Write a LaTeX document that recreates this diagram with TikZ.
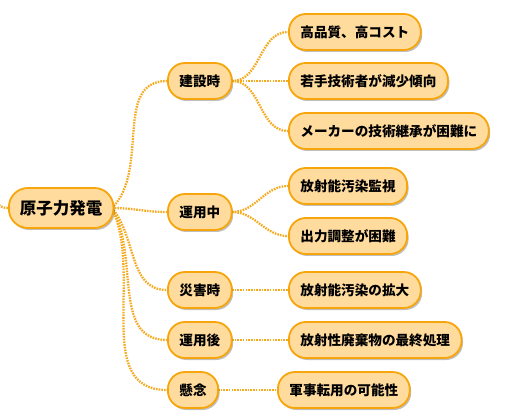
\documentclass[tikz,border=0pt]{standalone}
\usepackage{fontspec}
\setmainfont{Noto Sans CJK JP}
\usetikzlibrary{shadows}
\definecolor{boxfill}{RGB}{255,220,158}
\definecolor{boxline}{RGB}{247,165,10}
\definecolor{linkcol}{RGB}{246,170,30}
\tikzset{
  mbox/.style={draw=boxline, line width=1.8pt, fill=boxfill, rounded corners=17pt,
    minimum height=36pt, inner xsep=11.5pt, inner ysep=0pt, anchor=west,
    font=\fontsize{13.6}{15}\selectfont\bfseries,
    drop shadow={shadow xshift=1.5pt, shadow yshift=-2pt, opacity=0.25, fill=black}},
  rootbox/.style={mbox, minimum height=40pt, rounded corners=19pt, inner xsep=11pt,
    font=\fontsize{16.5}{18}\selectfont\bfseries},
  link/.style={draw=linkcol, line width=2.3pt, dash pattern=on 1.6pt off 1.1pt}
}
\begin{document}
\begin{tikzpicture}[x=1pt,y=-1pt]
\useasboundingbox (0,0) rectangle (532,419);
\coordinate (offl) at (-12,150);
% connectors first
\path (8,208) coordinate (rw) (112,208) coordinate (re);
\path (232,81) coordinate (a1e) (232,212) coordinate (a2e);
\draw[link] (rw) to[out=180,in=-60] (offl);
\draw[link] (re) to[out=45,in=180] (167,81);
\draw[link] (re) to[out=0,in=180] (167,212);
\draw[link] (re) to[out=-50,in=180] (167,290);
\draw[link] (re) to[out=-60,in=180] (167,340);
\draw[link] (re) to[out=-65,in=180] (167,390);
\draw[link] (a1e) to[out=0,in=180] (288,32);
\draw[link] (a1e) -- (288,81);
\draw[link] (a1e) to[out=0,in=180] (288,131);
\draw[link] (a2e) to[out=0,in=180] (288,186);
\draw[link] (a2e) to[out=0,in=180] (288,236);
\draw[link] (232,290) -- (288,290);
\draw[link] (232,340) -- (288,340);
\draw[link] (218,390) -- (277,390);
% nodes
\node[rootbox] (root) at (8,208) {原子力発電};
\node[mbox] (a1) at (167,81) {建設時};
\node[mbox] (a2) at (167,212) {運用中};
\node[mbox] (a3) at (167,290) {災害時};
\node[mbox] (a4) at (167,340) {運用後};
\node[mbox] (a5) at (167,390) {懸念};
\node[mbox] (b1) at (288,32) {高品質、高コスト};
\node[mbox] (b2) at (288,81) {若手技術者が減少傾向};
\node[mbox] (b3) at (288,131) {メーカーの技術継承が困難に};
\node[mbox] (b4) at (288,186) {放射能汚染監視};
\node[mbox] (b5) at (288,236) {出力調整が困難};
\node[mbox] (b6) at (288,290) {放射能汚染の拡大};
\node[mbox] (b7) at (288,340) {放射性廃棄物の最終処理};
\node[mbox] (b8) at (277,390) {軍事転用の可能性};
\end{tikzpicture}
\end{document}
